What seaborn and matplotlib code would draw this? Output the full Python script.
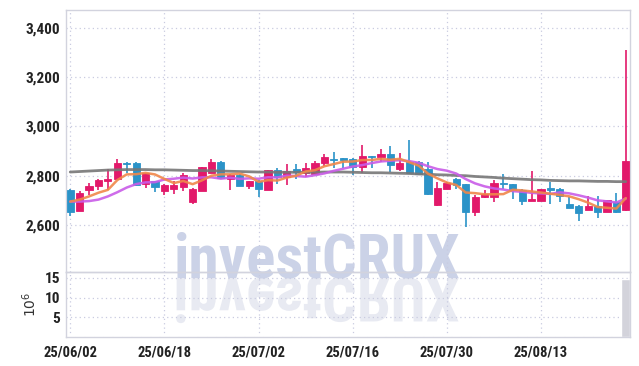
import numpy as np
import pandas as pd
import matplotlib
matplotlib.use("Agg")
import matplotlib.pyplot as plt
import seaborn as sns
from matplotlib.textpath import TextPath
from matplotlib.patches import PathPatch
from matplotlib.font_manager import FontProperties
from matplotlib.transforms import Affine2D, IdentityTransform

# ---------------- data ----------------
opens = [2742, 2657, 2742, 2760, 2780, 2785, 2853, 2853, 2765, 2778,
         2739, 2747, 2755, 2695, 2739, 2812, 2856, 2788, 2804, 2760,
         2780, 2742, 2823, 2793, 2826, 2812, 2806, 2850, 2868, 2870,
         2867, 2834, 2880, 2877, 2888, 2828, 2857, 2856, 2826, 2681,
         2747, 2787, 2766, 2654, 2712, 2715, 2770, 2766, 2742, 2699,
         2699, 2751, 2746, 2685, 2677, 2661, 2677, 2654, 2695, 2661]
highs = [2745, 2739, 2769, 2785, 2826, 2867, 2855, 2856, 2812, 2780,
         2765, 2778, 2812, 2750, 2836, 2867, 2858, 2806, 2806, 2780,
         2782, 2825, 2830, 2846, 2846, 2853, 2860, 2887, 2895, 2873,
         2870, 2925, 2882, 2907, 2920, 2891, 2945, 2858, 2854, 2776,
         2775, 2790, 2768, 2722, 2742, 2783, 2806, 2768, 2745, 2820,
         2748, 2776, 2750, 2715, 2680, 2718, 2719, 2703, 2731, 3310]
lows = [2636, 2655, 2722, 2742, 2742, 2783, 2810, 2757, 2749, 2735,
        2722, 2726, 2739, 2685, 2737, 2810, 2787, 2742, 2758, 2745,
        2715, 2740, 2765, 2762, 2785, 2793, 2804, 2839, 2830, 2832,
        2803, 2812, 2830, 2857, 2816, 2820, 2810, 2803, 2723, 2679,
        2745, 2745, 2591, 2637, 2710, 2695, 2745, 2704, 2681, 2697,
        2697, 2685, 2695, 2668, 2616, 2659, 2627, 2652, 2647, 2658]
closes = [2654, 2731, 2758, 2783, 2787, 2853, 2846, 2762, 2810, 2755,
          2762, 2762, 2804, 2745, 2834, 2856, 2789, 2804, 2760, 2778,
          2745, 2823, 2796, 2820, 2816, 2831, 2850, 2876, 2864, 2864,
          2834, 2880, 2877, 2888, 2845, 2853, 2812, 2807, 2725, 2749,
          2769, 2762, 2654, 2712, 2726, 2769, 2766, 2742, 2699, 2705,
          2746, 2742, 2718, 2670, 2647, 2677, 2654, 2701, 2654, 2860]
volumes = [0.2] * 59 + [14.8]          # millions of shares
ma5_head = [2695, 2703, 2716, 2731]     # 5-day MA before a full window (read)
ma10_head = [2695, 2695, 2697, 2703, 2716, 2733, 2752, 2766, 2773]
ma60 = [2815, 2817, 2819, 2821, 2823, 2824, 2825, 2825, 2825, 2824,
        2824, 2823, 2822, 2821, 2821, 2820, 2819, 2818, 2817, 2816,
        2815, 2815, 2814, 2814, 2814, 2814, 2814, 2815, 2815, 2815,
        2814, 2813, 2812, 2812, 2811, 2810, 2809, 2807, 2806, 2804,
        2803, 2801, 2800, 2797, 2795, 2793, 2790, 2788, 2786, 2784,
        2783, 2781, 2780, 2779, 2779, 2778, 2777, 2777, 2776, 2776]
date_tick_pos = [0, 10, 20, 30, 40, 50]
date_tick_labels = ["25/06/02", "25/06/18", "25/07/02", "25/07/16", "25/07/30", "25/08/13"]
price_ticks = [2600, 2800, 3000, 3200, 3400]
vol_ticks = [5, 10, 15]

# ---------------- frame ----------------
n = len(closes)
df = pd.DataFrame({"day": np.arange(n), "open": opens, "high": highs,
                   "low": lows, "close": closes, "volume": volumes, "ma60": ma60})
ma5 = df["close"].rolling(5).mean()
ma5.iloc[:len(ma5_head)] = ma5_head
ma10 = df["close"].rolling(10).mean()
ma10.iloc[:len(ma10_head)] = ma10_head
df["ma5"] = ma5
df["ma10"] = ma10

UP = "#e2196a"
DOWN = "#2b93c8"
GRID = "#c9cbe0"
SPINE = "#d2d3de"
TICKFONT = "Roboto Condensed"

sns.set_theme(style="white")
plt.rcParams["font.family"] = [TICKFONT, "DejaVu Sans"]

fig = plt.figure(figsize=(6.39, 3.66), dpi=100, facecolor="white")
L, R = 66 / 639, 630 / 639
ax = fig.add_axes([L, 1 - 272 / 366, R - L, (272 - 10) / 366])
axv = fig.add_axes([L, 1 - 337 / 366, R - L, (337 - 272) / 366], sharex=ax)
for a in (ax, axv):
    a.set_facecolor("none")
    for s in a.spines.values():
        s.set_color(SPINE)
        s.set_linewidth(1.0)
    a.grid(True, linestyle=(0, (1, 2.5)), color=GRID, linewidth=0.9)
    a.set_axisbelow(True)

# watermark (behind axes)
wm_font = FontProperties(family="Roboto Condensed", weight="bold")
fig.text(317.5 / 639, (366 - 277) / 366, "investCRUX", ha="center", va="baseline",
         fontsize=44, family="Roboto Condensed", fontweight="bold",
         color="#cbd2e7", zorder=-5)
tp = TextPath((0, 0), "investCRUX", size=44 * 100 / 72, prop=wm_font)
ext = tp.get_extents()
tr = Affine2D().scale(1, -1).translate(317.5 - (ext.x0 + ext.x1) / 2, 366 - 278)
refl = PathPatch(tr.transform_path(tp), facecolor="#e8eaf2", edgecolor="none",
                 transform=IdentityTransform(), zorder=-5)
fig.add_artist(refl)

# candles
up = df["close"] >= df["open"]
colors = np.where(up, UP, DOWN)
body_lo = np.minimum(df["open"], df["close"])
body_h = np.maximum(np.abs(df["close"] - df["open"]), 2.5)
ax.vlines(df["day"], df["low"], df["high"], colors=colors, linewidth=1.2, zorder=2)
ax.bar(df["day"], body_h, bottom=body_lo, width=0.76, color=colors,
       edgecolor=colors, linewidth=0.6, zorder=3)

# moving averages
sns.lineplot(data=df, x="day", y="ma60", ax=ax, color="#777777", linewidth=2.0, alpha=0.9, zorder=4)
sns.lineplot(data=df, x="day", y="ma10", ax=ax, color="#c95ce8", linewidth=1.8, alpha=0.9, zorder=4)
sns.lineplot(data=df, x="day", y="ma5", ax=ax, color="#f0874a", linewidth=1.8, alpha=0.9, zorder=5)

ax.set_ylim(2409, 3473)
ax.set_yticks(price_ticks)
ax.set_yticklabels([f"{v:,}" for v in price_ticks])
ax.set_xlim(-0.45, 59.45)
ax.set_xlabel("")
ax.set_ylabel("")
ax.tick_params(axis="x", length=0, labelbottom=False)
ax.tick_params(axis="y", length=0, pad=4, labelsize=11, colors="#222222")
for t in ax.get_yticklabels():
    t.set_fontweight("bold")

# volume
sns.barplot(x=df["day"], y=df["volume"], ax=axv, color="#d3d3db", native_scale=True,
            width=0.95, saturation=1, zorder=2)
axv.set_ylim(0, 16.5)
axv.set_yticks(vol_ticks)
axv.set_xticks(date_tick_pos)
axv.set_xticklabels(date_tick_labels)
axv.set_xlim(-0.45, 59.45)
axv.set_xlabel("")
axv.set_ylabel(r"$10^6$", fontsize=10, family="DejaVu Sans", labelpad=4, color="#333333")
axv.tick_params(axis="both", length=0, labelsize=11, colors="#222222")
axv.tick_params(axis="x", pad=6, labelsize=10.5)
axv.tick_params(axis="y", pad=4)
for t in axv.get_yticklabels() + axv.get_xticklabels():
    t.set_fontweight("bold")

fig.savefig("out.png", dpi=100, facecolor="white")
